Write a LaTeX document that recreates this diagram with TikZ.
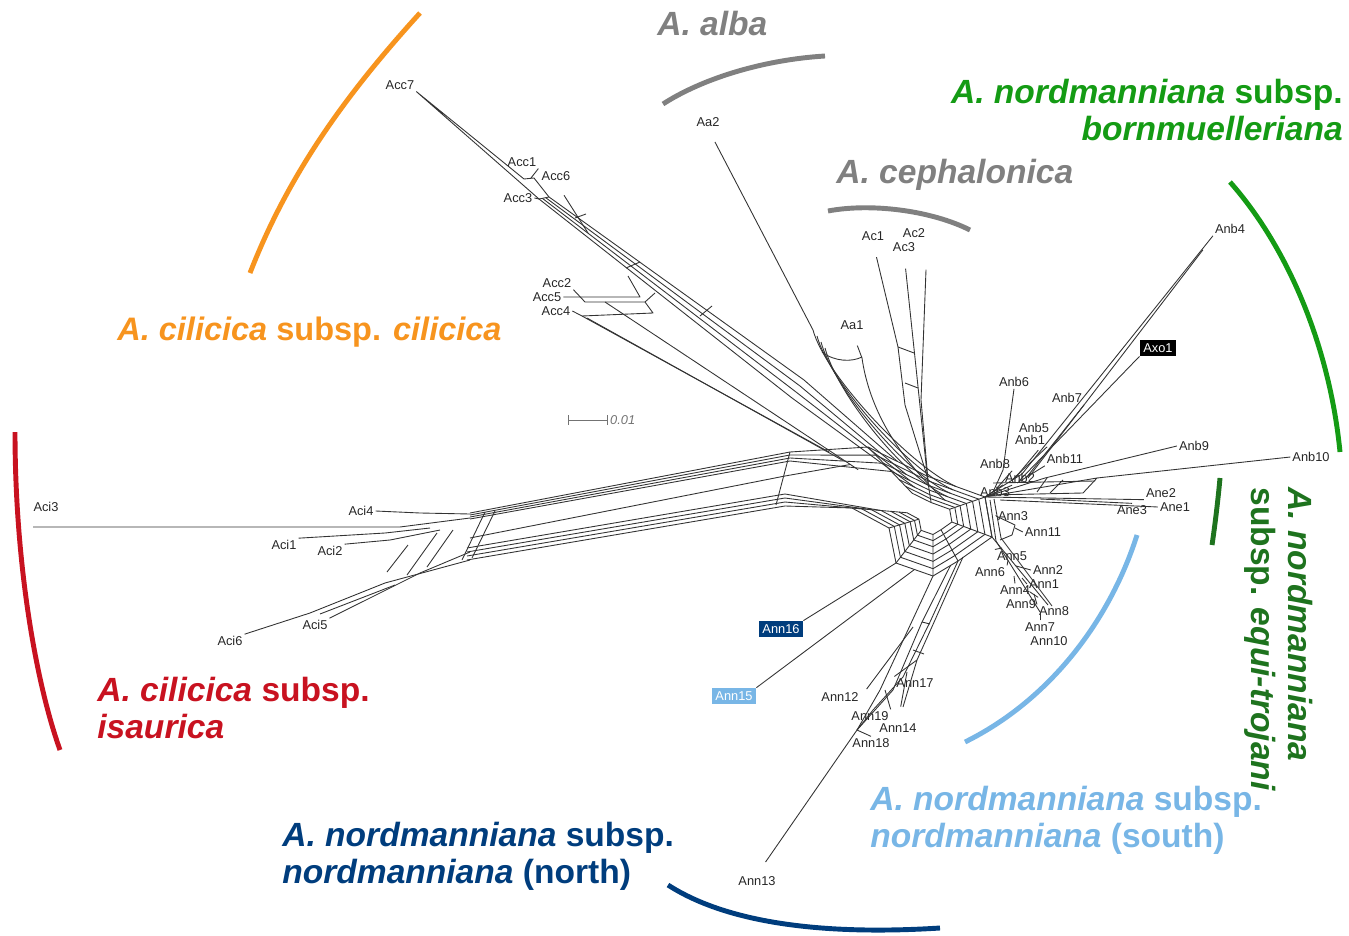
\documentclass[tikz,border=0pt]{standalone}
\usepackage{fontspec}
\setmainfont{Liberation Sans}
\usetikzlibrary{calc}

\definecolor{cilOrange}{RGB}{247,148,30}
\definecolor{firGray}{RGB}{128,128,128}
\definecolor{bornGreen}{RGB}{20,155,20}
\definecolor{equiGreen}{RGB}{30,115,30}
\definecolor{isaRed}{RGB}{200,18,32}
\definecolor{northBlue}{RGB}{0,61,125}
\definecolor{southBlue}{RGB}{120,182,230}

\begin{document}
\begin{tikzpicture}[x=0.02cm,y=-0.02cm,
leaf/.style={font=\fontsize{7.3}{8}\selectfont,text=black!85,inner sep=1pt},
leafbox/.style={leaf,fill=#1,text=white,inner sep=2pt},
web/.style={draw=black!80,line width=0.5pt,line join=round},
grp/.style={font=\fontsize{19.1}{21}\selectfont\bfseries,inner sep=0pt},
clade/.style={line width=2.8pt}]

\useasboundingbox (0,0) rectangle (1349,936);

% corners of the central web
\coordinate (P) at (933,515);
\coordinate (r2) at (868,447);
\coordinate (r3) at (927,476);
\coordinate (r4) at (985,497);
\coordinate (r5) at (992,537);
\coordinate (r6) at (958,561);
\coordinate (r7) at (933,576);
\coordinate (r8) at (896,563);
\coordinate (r9) at (889,528);
\coordinate (r10) at (852,508);
\coordinate (m12) at (829,452);
\coordinate (m23) at ($(r2)!.5!(r3)$);
\coordinate (m34) at ($(r3)!.5!(r4)$);

\foreach \s in {1,.88,.76,.64,.52,.42,.32}
  \draw[web] ($(P)!\s!(r2)$) -- ($(P)!\s!(r3)$) -- ($(P)!\s!(r4)$) -- ($(P)!\s!(r5)$) -- ($(P)!\s!(r6)$)
    -- ($(P)!\s!(r7)$) -- ($(P)!\s!(r8)$) -- ($(P)!\s!(r9)$) -- ($(P)!\s!(r10)$);
\foreach \i in {2,...,10}
  \draw[web] (r\i) -- ($(P)!.32!(r\i)$);

% taxa
\node[leaf] (Acc7) at (400,85) {Acc7};
\node[leaf] (Acc1) at (522,162) {Acc1};
\node[leaf] (Acc6) at (556,176) {Acc6};
\node[leaf] (Acc3) at (518,198) {Acc3};
\node[leaf] (Acc2) at (557,283) {Acc2};
\node[leaf] (Acc5) at (547,297) {Acc5};
\node[leaf] (Acc4) at (556,311) {Acc4};
\node[leaf] (Aa2) at (708,122) {Aa2};
\node[leaf] (Aa1) at (852,325) {Aa1};
\node[leaf] (Ac1) at (873,236) {Ac1};
\node[leaf] (Ac2) at (914,233) {Ac2};
\node[leaf] (Ac3) at (904,247) {Ac3};
\node[leaf] (Anb4) at (1230,229) {Anb4};
\node[leafbox=black] (Axo1) at (1158,348) {Axo1};
\node[leaf] (Anb6) at (1014,382) {Anb6};
\node[leaf] (Anb7) at (1067,398) {Anb7};
\node[leaf] (Anb5) at (1034,428) {Anb5};
\node[leaf] (Anb1) at (1030,440) {Anb1};
\node[leaf] (Anb8) at (995,464) {Anb8};
\node[leaf] (Anb11) at (1065,459) {Anb11};
\node[leaf] (Anb2) at (1020,478) {Anb2};
\node[leaf] (Anb3) at (995,492) {Anb3};
\node[leaf] (Anb9) at (1194,446) {Anb9};
\node[leaf] (Anb10) at (1311,457) {Anb10};
\node[leaf] (Ane2) at (1161,493) {Ane2};
\node[leaf] (Ane1) at (1175,507) {Ane1};
\node[leaf] (Ane3) at (1132,510) {Ane3};
\node[leaf] (Ann3) at (1013,516) {Ann3};
\node[leaf] (Ann11) at (1043,532) {Ann11};
\node[leaf] (Ann5) at (1012,556) {Ann5};
\node[leaf] (Ann6) at (990,572) {Ann6};
\node[leaf] (Ann2) at (1048,570) {Ann2};
\node[leaf] (Ann1) at (1044,584) {Ann1};
\node[leaf] (Ann4) at (1015,590) {Ann4};
\node[leaf] (Ann9) at (1021,604) {Ann9};
\node[leaf] (Ann8) at (1054,611) {Ann8};
\node[leaf] (Ann7) at (1040,627) {Ann7};
\node[leaf] (Ann10) at (1049,641) {Ann10};
\node[leafbox=northBlue] (Ann16) at (781,629) {Ann16};
\node[leafbox=southBlue] (Ann15) at (734,696) {Ann15};
\node[leaf] (Ann17) at (915,683) {Ann17};
\node[leaf] (Ann12) at (840,697) {Ann12};
\node[leaf] (Ann19) at (870,716) {Ann19};
\node[leaf] (Ann14) at (898,728) {Ann14};
\node[leaf] (Ann18) at (871,743) {Ann18};
\node[leaf] (Ann13) at (757,881) {Ann13};
\node[leaf] (Aci3) at (46,507) {Aci3};
\node[leaf] (Aci4) at (361,511) {Aci4};
\node[leaf] (Aci1) at (284,545) {Aci1};
\node[leaf] (Aci2) at (330,551) {Aci2};
\node[leaf] (Aci5) at (315,625) {Aci5};
\node[leaf] (Aci6) at (230,641) {Aci6};
\coordinate (tAci3) at (33,527);

% A. cilicica subsp. cilicica
\draw[web] (Acc7.south east) -- (524,179) -- (534,178) -- (549,197) -- (539,199) -- cycle;
\draw[web] (Acc1.south east) -- (531,178);
\draw[web] (Acc3.east) -- (539,199);
\draw[web,shorten <=0.3cm] (Acc6.south) -- (588,233);
\foreach \k/\s in {0/.52,1/.64,2/.76,3/1}
  \draw[web] ($(539,199)+(3.3*\k,-0.7*\k)$) -- ($(792,398)+(4*\k,-6*\k)$) -- ($(P)!\s!(m23)$);
\draw[web] (575,218) -- (586,214) (626,268) -- (640,262) (700,316) -- (712,306);
\draw[web] (Acc5.east) -- (572,297) -- (640,297) -- (628,276);
\draw[web] (Acc2.south east) -- (585,302) -- (645,302) -- (655,293);
\draw[web] (Acc4.east) -- (582,316) -- (653,313) -- (645,302);
\draw[web] (582,316) -- (m12);
\draw[web] (587,318) -- ($(P)!.86!(m12)$);
\draw[web] (605,302) -- ($(P)!.72!(m12)$);

% A. alba and A. cephalonica
\draw[web,shorten <=0.3cm] (Aa2.south) -- (813,330);
\foreach \k/\s in {0/1,1/.88,2/.76,3/.64}
  \draw[web] ($(813,330)+(4*\k,6*\k)$) .. controls +(12,45) and +(-45,-20) .. ($(P)!\s!(m34)$);
\draw[web,shorten <=0.3cm] (Aa1.south) -- (862,358);
\draw[web] (822,352) .. controls (835,362) and (852,362) .. (862,357);
\draw[web] (862,358) .. controls (868,400) and (890,450) .. ($(P)!.52!(m34)$);
\draw[web,shorten <=0.3cm] (Ac1.south) -- (898,347) -- (905,405) -- (r3);
\draw[web,shorten <=0.3cm] (Ac3.south) -- (917,377) -- ($(P)!.88!(r3)$);
\draw[web,shorten <=0.6cm] (Ac2.south east) -- (921,400) -- ($(P)!.76!(r3)$);
\draw[web] (898,347) -- (914,353) (905,383) -- (918,388);

% A. nordmanniana subsp. bornmuelleriana and equi-trojani
\draw[web] (Anb4.south west) -- (1022,474) -- (r4);
\draw[web] ($(Anb4.south west)+(-10,14)$) -- (1028,478);
\draw[web] (Anb7.south east) -- (1026,478);
\draw[web] (Axo1.south west) -- (1019,481);
\draw[web] (Anb6.south) -- (1003,470) -- (993,492);
\draw[web] (Anb1.south east) -- (1012,480);
\draw[web,shorten <=0.4cm] (Anb5.south east) -- (1015,478);
\draw[web] (Anb11.south west) -- (1017,483);
\draw[web] (Anb8.south east) -- (997,488);
\draw[web] (Anb2.south west) -- (r4);
\draw[web] (Anb3.north east) -- (r4);
\draw[web] (Anb9.west) -- (1045,478) -- (r4);
\draw[web] (Anb10.west) -- (1097,478);
\draw[web] (r4) -- (1097,478) -- (1083,493) -- (990,495);
\draw[web] (993,483) -- (1095,481) (1047,478) -- (1037,492) (1063,480) -- (1050,493);
\draw[web] (Ane2.south west) -- (r4);
\draw[web] (Ane1.west) -- (1000,500);
\draw[web] (Ane3.north) -- (1040,499);

% A. nordmanniana subsp. nordmanniana (south)
\draw[web] (r4) -- (r5) -- (1048,605);
\draw[web] (990,500) -- (996,541) -- (1040,612);
\draw[web] (994,499) -- (1001,538) -- (1052,606);
\draw[web] (Ann3.west) -- (996,515);
\draw[web] (996,516) -- (1015,525) -- (1012,535) -- (1000,540);
\draw[web] (Ann11.west) -- (1015,528);
\draw[web] (Ann5.north west) -- (1002,548);
\draw[web] (Ann6.north east) -- (1008,560);
\draw[web] (Ann2.west) -- (1016,566);
\draw[web] (Ann1.west) -- (1022,578);
\draw[web] (Ann4.north) -- (1014,576);
\draw[web] (Ann9.north east) -- (1030,592);
\draw[web] (Ann8.north west) -- (1034,594);
\draw[web] (Ann7.north) -- (1040,612);

% A. nordmanniana subsp. nordmanniana (north)
\draw[web] (r6) -- (930,622) -- (903,677) -- (873,710) -- (857,730);
\draw[web] ($(r6)!.3!(r7)$) -- (922,622) -- (893,690) -- (857,730);
\draw[web] (963,557) -- (935,620) -- (917,660) -- (903,707);
\draw[web] (r7) -- (880,690) -- (857,730);
\draw[web] (922,622) -- (930,624) (913,650) -- (924,654);
\draw[web,shorten <=0.3cm] (Ann13.north) -- (857,730);
\draw[web] (Ann17.north west) -- (917,660);
\draw[web,shorten <=0.3cm] (Ann14.north) -- (907,672);
\draw[web,shorten <=0.2cm] (Ann12.east) -- (913,627);
\draw[web] (Ann19.north east) -- (885,690);
\draw[web] (Ann18.north) -- (857,730);
\draw[web] (Ann16.north east) -- (r8);
\draw[web] (Ann15.north east) -- ($(r8)!.5!(r7)$);

% A. cilicica subsp. isaurica
\draw[web] (tAci3) -- (400,527) -- (470,518);
\draw[web] (Aci4.east) -- (420,513) -- (470,514);
\draw[web] (Aci1.north east) -- (385,533) -- (430,528);
\draw[web] (Aci2.north east) -- (390,540) -- (440,530);
\draw[web] (Aci5.north east) -- (420,573) -- (470,552);
\draw[web] (Aci6.north east) -- (310,613) -- (385,583) -- (470,560);
\draw[web] (320,614) -- (395,585) (408,545) -- (387,572) (437,533) -- (407,575) (453,530) -- (427,567);
\foreach \k/\s in {0/1,1/.88,2/.76,3/.64}
  \draw[web] (470,513+2*\k) -- (790,452+3*\k) -- ($(P)!\s!(r2)$);
\foreach \k/\s in {0/1,1/.88,2/.76,3/.64}
  \draw[web] (467,560-4*\k) -- (785,506-4*\k) -- ($(P)!\s!(r10)$);
\draw[web] (470,538) -- (785,476) -- ($(P)!.8!(m12)$);
\draw[web] (485,512) -- (462,560) (495,511) -- (472,558) (790,452) -- (776,505);

% scale
\draw[web,draw=black!55,|-|] (568,420) -- (608,420) node[leaf,right,text=black!55,font=\fontsize{7.3}{8}\selectfont\itshape] (sclab) {0.01};

% groups
\draw[clade,cilOrange] (250,273) .. controls (290,170) and (350,90) .. (420,13);
\draw[clade,firGray] (663,104) .. controls (700,80) and (760,60) .. (825,56);
\draw[clade,firGray] (828,211) .. controls (870,203) and (930,210) .. (970,230);
\draw[clade,bornGreen] (1230,182) .. controls (1290,250) and (1330,350) .. (1340,452);
\draw[clade,equiGreen] (1220,478) .. controls (1218,500) and (1215,525) .. (1212,545);
\draw[clade,southBlue] (1137,535) .. controls (1110,620) and (1050,700) .. (965,742);
\draw[clade,northBlue] (668,885) .. controls (730,925) and (830,935) .. (940,928);
\draw[clade,isaRed] (15,432) .. controls (15,560) and (35,680) .. (60,750);

\node[grp,text=firGray,anchor=base west] (alba) at (657,36) {\textit{A. alba}};
\node[grp,text=firGray,anchor=base west] (ceph) at (836,183) {\textit{A. cephalonica}};
\node[grp,text=bornGreen,anchor=north east,align=right] (bornm) at (1343,79) {\textit{A. nordmanniana} subsp.\\\textit{bornmuelleriana}};
\node[grp,text=cilOrange,anchor=base west,font=\fontsize{18.5}{21}\selectfont\bfseries] (cilic) at (117,340) {\textit{A. cilicica} subsp. \textit{cilicica}};
\node[grp,text=isaRed,anchor=north west,align=left] (isaur) at (97,677) {\textit{A. cilicica} subsp.\\\textit{isaurica}};
\node[grp,text=northBlue,anchor=north west,align=left] (north) at (282,822) {\textit{A. nordmanniana} subsp.\\\textit{nordmanniana} (north)};
\node[grp,text=southBlue,anchor=north west,align=left] (south) at (870,786) {\textit{A. nordmanniana} subsp.\\\textit{nordmanniana} (south)};
\node[grp,text=equiGreen,anchor=north west,align=left,rotate=-90] (equi) at (1313,487) {\textit{A. nordmanniana}\\subsp. \textit{equi-trojani}};

\end{tikzpicture}
\end{document}
